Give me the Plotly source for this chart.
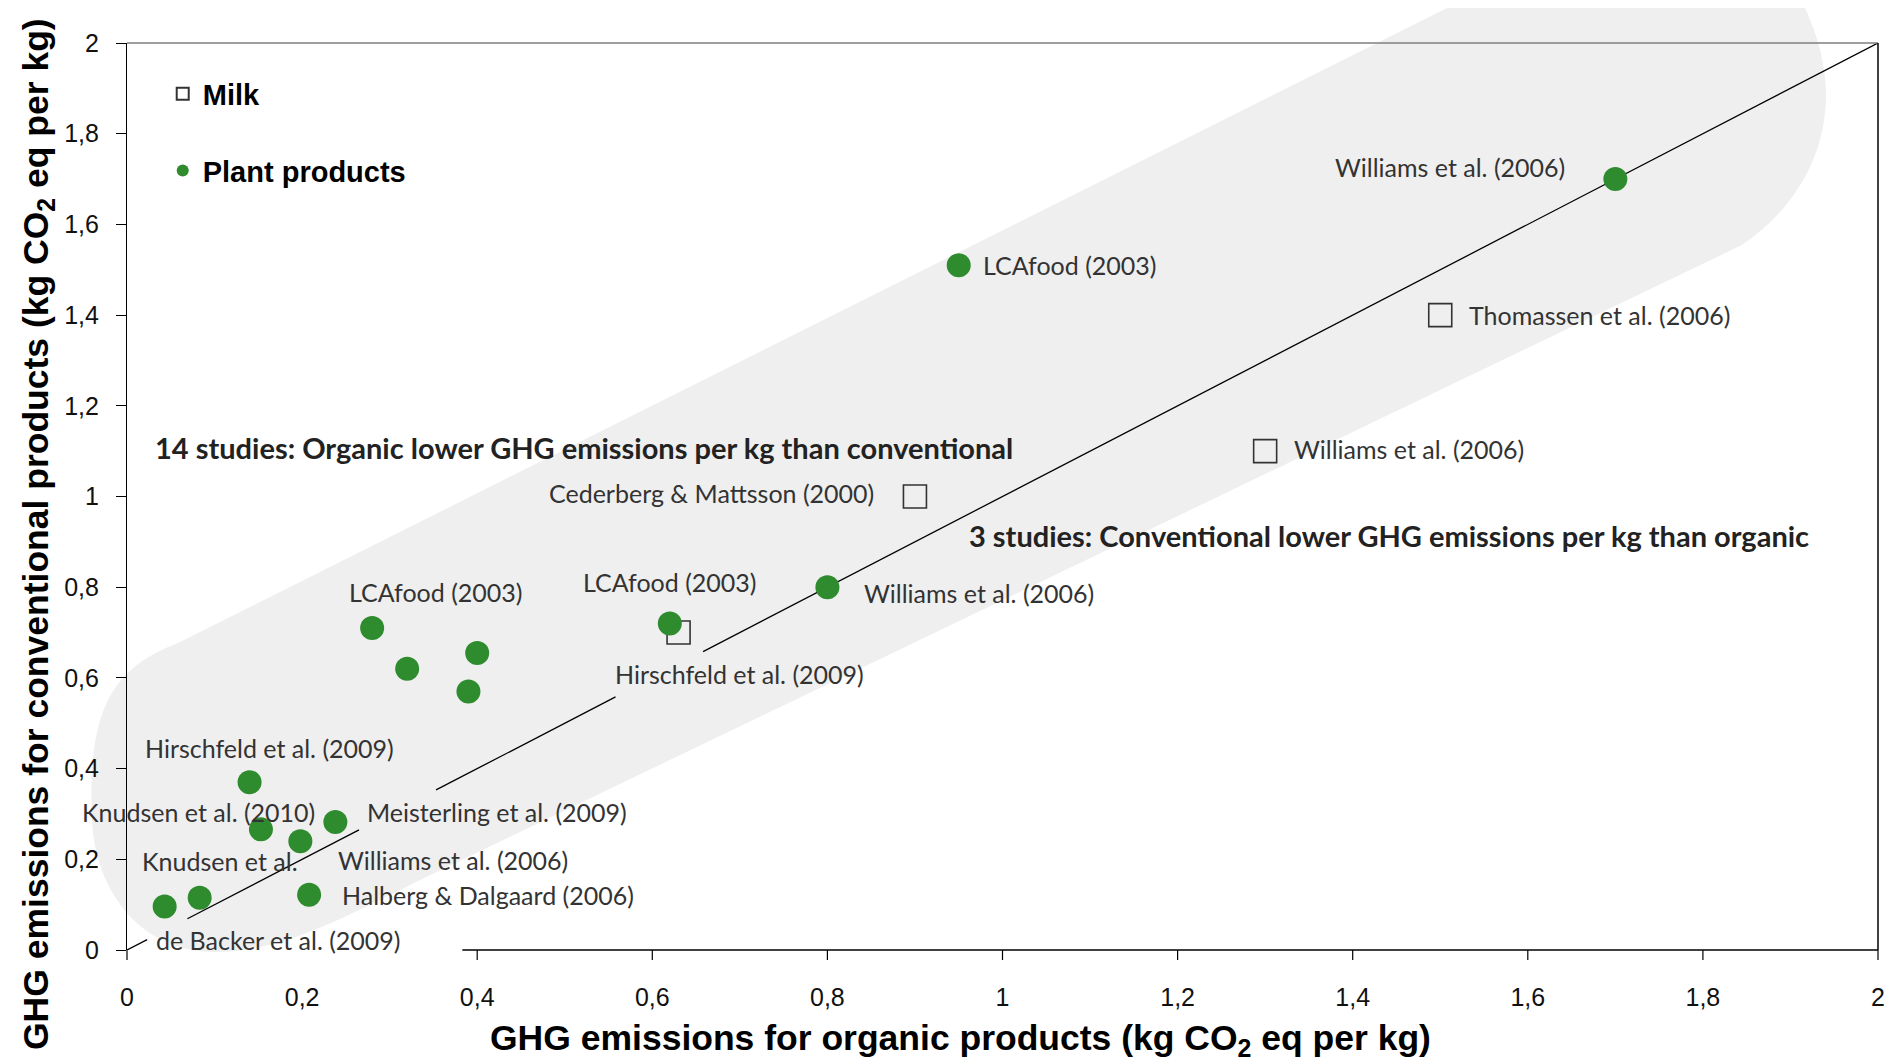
import plotly.graph_objects as go

# ---------------- data ----------------
milk_x = [1.50, 1.30, 0.90, 0.63]
milk_y = [1.40, 1.10, 1.00, 0.70]
milk_labels = ["Thomassen et al. (2006)", "Williams et al. (2006)",
               "Cederberg & Mattsson (2000)", "Hirschfeld et al. (2009)"]

plant_x = [1.70, 0.95, 0.80, 0.62, 0.28, 0.32, 0.40, 0.39,
           0.14, 0.153, 0.198, 0.238, 0.208, 0.083, 0.043]
plant_y = [1.70, 1.51, 0.80, 0.72, 0.71, 0.62, 0.655, 0.57,
           0.37, 0.266, 0.24, 0.282, 0.122, 0.115, 0.096]
plant_labels = ["Williams et al. (2006)", "LCAfood (2003)", "Williams et al. (2006)",
                "LCAfood (2003)", "LCAfood (2003)", "", "", "",
                "Hirschfeld et al. (2009)", "Knudsen et al. (2010)", "Williams et al. (2006)",
                "Meisterling et al. (2009)", "Halberg & Dalgaard (2006)", "Knudsen et al.",
                "de Backer et al. (2009)"]

# 1:1 line drawn in pieces (gaps left for labels)
diag_pieces = [(0.0, 0.023), (0.069, 0.265), (0.353, 0.558), (0.658, 2.0)]

tick_vals = [0, 0.2, 0.4, 0.6, 0.8, 1.0, 1.2, 1.4, 1.6, 1.8, 2.0]
tick_text = ["0", "0,2", "0,4", "0,6", "0,8", "1", "1,2", "1,4", "1,6", "1,8", "2"]

note_lower = "14 studies: Organic lower GHG emissions per kg than conventional"
note_higher = "3 studies: Conventional lower GHG emissions per kg than organic"

# ---------------- styling / placement ----------------
GREEN = "rgb(46,139,46)"
BAND = "#EFEFEF"
LABEL_FONT = dict(family="Lato, Carlito, Open Sans, sans-serif", size=25, color="#333333")
NOTE_FONT = dict(family="Lato, Carlito, Open Sans, sans-serif", size=29, color="#222222")
TICK_FONT = dict(family="Liberation Sans Narrow, Arial Narrow, Liberation Sans, sans-serif",
                 size=25, color="#111111")
XTITLE_FONT = dict(family="Liberation Sans, Arial, sans-serif", size=35.5, color="#000000")
YTITLE_FONT = dict(family="Liberation Sans, Arial, sans-serif", size=35.5, color="#000000")

# label offsets: (xanchor, xshift, yshift) for each point
plant_off = [("right", -48, 12), ("left", 22, 0), ("left", 35, -6), ("center", 0, 41),
             ("center", 64, 36), None, None, None,
             ("center", 20, 34), ("center", -62, 17), ("left", 36, -19),
             ("left", 30, 10), ("left", 31, 0), ("center", 20, 37), ("left", -11, -34)]
milk_off = [("left", 27, 0), ("left", 27, 2), ("right", -39, 4), ("center", 61, -41)]

# plot-area geometry in page pixels (used for the decorative band)
PX0, PX1, PY_TOP, PY_BOT = 127.0, 1878.0, 43.0, 950.0


def P(x, y):
    return ((x - PX0) / (PX1 - PX0), (PY_BOT - y) / (PY_BOT - PY_TOP))


def pt(x, y):
    a, b = P(x, y)
    return f"{a:.5f},{b:.5f}"


band_path = (
    f"M {pt(178,643)} L {pt(1447,8)} L {pt(1805,8)} "
    f"C {pt(1815,30)} {pt(1826,60)} {pt(1826,95)} "
    f"C {pt(1826,150)} {pt(1800,205)} {pt(1742,245)} "
    f"L {pt(420,880)} "
    f"C {pt(340,920)} {pt(280,952)} {pt(215,952)} "
    f"C {pt(140,952)} {pt(95,890)} {pt(92,820)} "
    f"C {pt(88,720)} {pt(105,670)} {pt(178,643)} Z"
)

fig = go.Figure()

# diagonal 1:1 line
dx, dy = [], []
for a, b in diag_pieces:
    dx += [a, b, None]
    dy += [a, b, None]
fig.add_trace(go.Scatter(x=dx, y=dy, mode="lines", line=dict(color="#000000", width=1.3),
                         showlegend=False, hoverinfo="skip", cliponaxis=False))

fig.add_trace(go.Scatter(
    x=milk_x, y=milk_y, mode="markers", name="Milk", legendgroup="milk",
    marker=dict(symbol="square-open", size=23, color="#333333", line=dict(width=1.6, color="#333333")),
    cliponaxis=False))
fig.add_trace(go.Scatter(
    x=plant_x, y=plant_y, mode="markers", name="Plant products", legendgroup="plant",
    marker=dict(symbol="circle", size=24, color=GREEN, line=dict(width=0)),
    cliponaxis=False))

annotations = []
for xs, ys, labs, offs in [(plant_x, plant_y, plant_labels, plant_off),
                           (milk_x, milk_y, milk_labels, milk_off)]:
    for x, y, lab, off in zip(xs, ys, labs, offs):
        if not lab or off is None:
            continue
        anc, xsft, ysft = off
        annotations.append(dict(x=x, y=y, xref="x", yref="y", text=lab, showarrow=False,
                                xanchor=anc, yanchor="middle", xshift=xsft, yshift=ysft,
                                font=LABEL_FONT))

annotations.append(dict(x=0.0297, y=1.109, xref="x", yref="y", text=f"<b>{note_lower}</b>",
                        showarrow=False, xanchor="left", yanchor="middle", font=NOTE_FONT))
annotations.append(dict(x=0.959, y=0.913, xref="x", yref="y", text=f"<b>{note_higher}</b>",
                        showarrow=False, xanchor="left", yanchor="middle", font=NOTE_FONT))

# axis titles
annotations.append(dict(x=(960 - PX0) / (PX1 - PX0), y=(PY_BOT - 1040) / (PY_BOT - PY_TOP),
                        xref="paper", yref="paper",
                        text="<b>GHG emissions for organic products (kg CO<sub>2</sub> eq per kg)</b>",
                        showarrow=False, xanchor="center", yanchor="middle", font=XTITLE_FONT))
annotations.append(dict(x=(38 - PX0) / (PX1 - PX0), y=(PY_BOT - 534) / (PY_BOT - PY_TOP),
                        xref="paper", yref="paper", textangle=-90,
                        text="<b>GHG emissions for conventional products (kg CO<sub>2</sub> eq per kg)</b>",
                        showarrow=False, xanchor="center", yanchor="middle", font=YTITLE_FONT))

xmin, xmax = 0.0, 2.0
shapes = [
    dict(type="path", path=band_path, xref="paper", yref="paper", fillcolor=BAND,
         line=dict(width=0), layer="below"),
    # x axis line (interrupted under the lowest label)
    dict(type="line", xref="paper", yref="paper", x0=(0.383 - xmin) / (xmax - xmin), x1=1.0,
         y0=0, y1=0, line=dict(color="#000000", width=1.6), layer="above"),
    # top frame line
    dict(type="line", xref="paper", yref="paper", x0=0, x1=1.0, y0=1, y1=1,
         line=dict(color="#7f7f7f", width=1.5), layer="above"),
    # right frame line
    dict(type="line", xref="paper", yref="paper", x0=1, x1=1, y0=0, y1=1,
         line=dict(color="#000000", width=1.5), layer="above"),
]
for v in tick_vals:
    if abs(v - 0.2) < 1e-9:
        continue  # hidden tick in the original
    xp = (v - xmin) / (xmax - xmin)
    shapes.append(dict(type="line", xref="paper", yref="paper", ysizemode="pixel", yanchor=0,
                       x0=xp, x1=xp, y0=0, y1=-10, line=dict(color="#000000", width=1.2),
                       layer="above"))

fig.update_layout(
    width=1893, height=1062,
    margin=dict(l=127, r=15, t=43, b=112, autoexpand=False),
    paper_bgcolor="white", plot_bgcolor="rgba(0,0,0,0)",
    showlegend=True,
    legend=dict(x=0.0204, y=0.972, xanchor="left", yanchor="top",
                font=dict(family="Liberation Sans, Arial, sans-serif", size=29, color="#000000",
                          weight="bold"),
                bgcolor="rgba(0,0,0,0)", borderwidth=0, tracegroupgap=36,
                traceorder="grouped", itemsizing="constant"),
    xaxis=dict(range=[xmin, xmax], showgrid=False, zeroline=False, showline=False,
               ticks="", tickvals=tick_vals, ticktext=tick_text, tickfont=TICK_FONT,
               ticklabelstandoff=30, fixedrange=True, automargin=False),
    yaxis=dict(range=[0, 2], showgrid=False, zeroline=False, showline=True,
               linecolor="#000000", linewidth=1.2, ticks="outside", ticklen=10,
               tickcolor="#000000", tickwidth=1.2, tickvals=tick_vals, ticktext=tick_text,
               tickfont=TICK_FONT, ticklabelstandoff=12, fixedrange=True, automargin=False),
    annotations=annotations,
    shapes=shapes,
)

fig.write_html("out.html", config={"displayModeBar": False},
               post_script="document.body.style.margin='0';document.body.style.overflow='hidden';")
